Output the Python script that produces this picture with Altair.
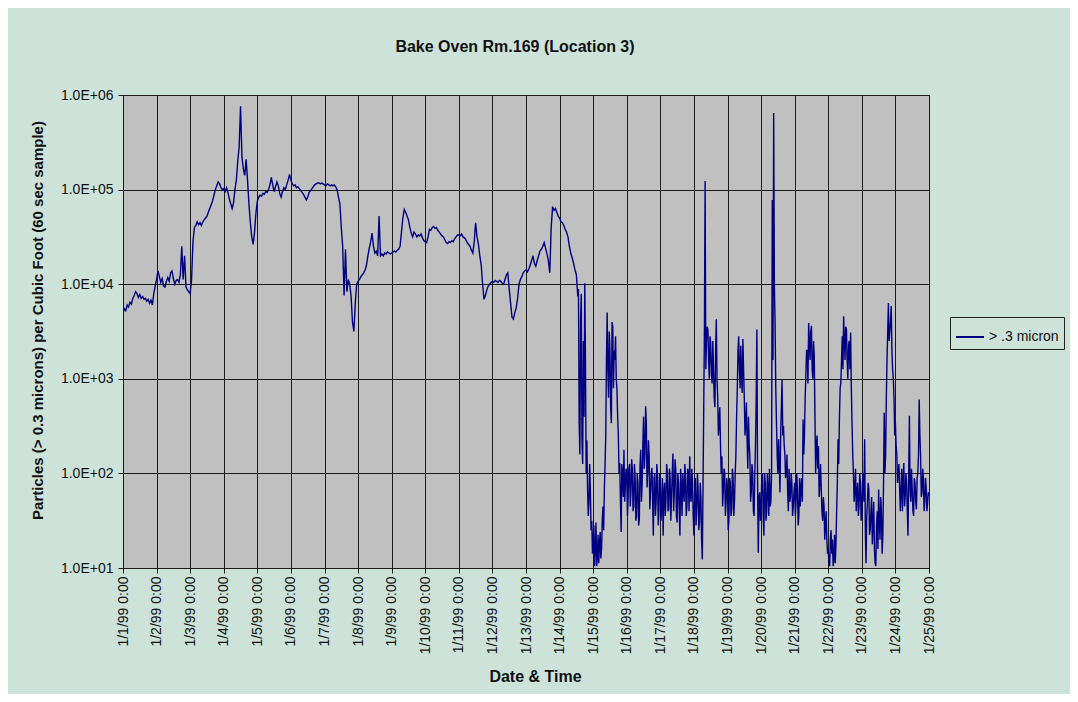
import json
import altair as alt
import pandas as pd

# ---------------- data (log10 of particles per cubic foot) ----------------
title_text = "Bake Oven Rm.169 (Location 3)"
series_name = "> .3 micron"
x_axis_title = "Date & Time"
y_axis_title = "Particles (> 0.3 microns) per Cubic Foot (60 sec sample)"

x_tick_values = list(range(25))
x_tick_labels = [f"1/{d}/99 0:00" for d in range(1, 26)]
y_tick_values = [10, 100, 1000, 10000, 100000, 1000000]
y_tick_labels = ["1.0E+01", "1.0E+02", "1.0E+03", "1.0E+04", "1.0E+05", "1.0E+06"]

# readings on the hour (24 per day)
day_01 = [3.70,3.74,3.72,3.78,3.76,3.81,3.79,3.85,3.88,3.92,3.90,3.86,3.89,3.85,3.87,3.84,3.85,3.82,3.84,3.80,3.83,3.78,3.90,3.98]
day_02 = [4.05,4.14,4.08,4.02,4.06,3.98,3.97,4.03,4.07,4.03,4.12,4.14,4.06,4.00,4.04,4.05,4.02,4.10,4.40,4.05,4.30,3.97,3.94,3.92]
day_03 = [3.90,4.05,4.45,4.60,4.62,4.66,4.63,4.65,4.62,4.66,4.68,4.70,4.72,4.76,4.80,4.84,4.88,4.94,5.00,5.04,5.08,5.06,5.02,5.00]
day_04 = [5.01,4.98,5.02,4.97,4.90,4.85,4.80,4.86,5.00,5.10,5.30,5.45,5.88,5.35,5.22,5.15,5.32,5.10,4.85,4.65,4.50,4.42,4.55,4.75]
day_05 = [4.88,4.92,4.94,4.93,4.96,4.95,4.98,4.97,5.00,5.05,5.13,5.05,4.98,5.03,5.08,5.04,4.96,4.92,4.98,5.02,5.00,5.05,5.10,5.16]
day_06 = [5.10,5.06,5.04,5.05,5.02,5.03,5.01,4.99,4.97,4.95,4.92,4.89,4.92,4.97,4.99,5.01,5.03,5.05,5.06,5.07,5.07,5.06,5.07,5.06]
day_07 = [5.05,5.04,5.06,5.05,5.04,5.05,5.04,5.05,5.03,5.00,4.92,4.85,4.60,4.40,3.88,4.37,3.92,4.05,4.00,3.87,3.60,3.50,3.80,4.00]
day_08 = [4.03,4.05,4.08,4.10,4.12,4.15,4.20,4.30,4.38,4.45,4.54,4.40,4.33,4.35,4.30,4.72,4.30,4.32,4.30,4.33,4.32,4.34,4.33,4.32]
day_09 = [4.33,4.34,4.35,4.34,4.36,4.37,4.40,4.55,4.70,4.79,4.76,4.72,4.68,4.60,4.54,4.50,4.55,4.53,4.50,4.52,4.51,4.53,4.49,4.46]
day_10 = [4.45,4.44,4.50,4.58,4.57,4.60,4.61,4.59,4.60,4.57,4.55,4.53,4.51,4.50,4.47,4.44,4.43,4.45,4.44,4.46,4.45,4.48,4.50,4.52]
day_11 = [4.52,4.51,4.53,4.50,4.49,4.47,4.44,4.42,4.40,4.36,4.33,4.45,4.65,4.50,4.42,4.30,4.20,4.00,3.84,3.88,3.94,3.98,4.00,4.02]
day_12 = [4.03,4.02,4.04,4.03,4.02,4.04,4.03,4.01,4.00,4.05,4.10,4.12,3.95,3.80,3.65,3.63,3.70,3.75,3.85,4.00,4.05,4.08,4.12,4.14]
day_13 = [4.15,4.13,4.16,4.20,4.25,4.30,4.22,4.19,4.25,4.30,4.35,4.37,4.40,4.44,4.38,4.32,4.25,4.12,4.60,4.82,4.78,4.80,4.76,4.72]
day_14 = [4.70,4.66,4.65,4.62,4.58,4.55,4.50,4.40,4.33,4.28,4.22,4.15,4.10,3.87,2.53,3.60,2.36,3.40,4.01,2.00,1.83,1.70,1.83,1.50]
day_15 = [1.30,1.02,1.48,1.10,1.05,1.38,1.20,1.65,1.83,2.40,3.70,2.80,3.30,2.53,3.55,3.30,3.45,2.89,2.40,2.11,1.38,2.00,2.25,1.85]
day_16 = [2.00,1.75,2.10,1.80,2.05,1.65,1.95,1.55,1.90,1.52,2.25,1.90,2.60,2.20,2.53,2.00,2.18,1.80,2.06,1.34,2.00,1.70,1.95,1.60]
day_17 = [1.90,1.65,1.34,1.90,1.70,2.00,1.62,1.95,1.75,2.21,1.80,2.05,1.48,1.90,1.34,1.85,2.00,1.70,1.95,1.65,2.00,2.18,1.70,1.90]
day_18 = [1.34,1.95,1.60,1.83,1.50,1.75,1.09,2.68,5.09,3.40,3.52,3.00,3.38,2.95,3.10,2.70,3.63,2.80,2.53,2.30,2.18,1.80,2.00,1.70]
day_19 = [1.83,1.50,1.90,1.62,1.95,1.70,2.20,2.90,3.45,2.90,3.06,3.42,2.80,2.53,2.35,2.60,2.18,1.80,2.00,1.55,2.30,3.52,1.16,1.80]
day_20 = [1.65,2.00,1.34,1.90,1.60,1.83,2.05,1.70,4.89,5.81,3.59,2.53,2.00,2.10,2.40,2.99,2.50,2.20,2.00,1.80,2.05,1.75,1.90,1.65]
day_21 = [1.90,1.70,1.83,1.55,1.65,1.95,2.57,2.40,3.03,3.30,3.59,3.20,3.56,3.00,3.24,2.00,2.40,2.29,1.90,1.83,1.50,1.65,1.45,1.30]
day_22 = [1.20,1.02,1.40,1.30,1.10,1.05,1.60,2.36,2.60,2.96,3.45,3.66,3.20,3.52,3.00,3.40,3.49,2.53,2.00,1.83,1.60,1.90,1.65,1.90]
day_23 = [1.60,2.00,2.36,1.05,1.70,1.83,1.40,1.75,1.48,1.20,1.02,1.60,1.83,1.30,1.60,1.34,2.64,2.20,3.20,3.80,3.50,3.77,3.10,2.80]
day_24 = [2.53,2.20,2.00,1.85,1.83,1.60,2.11,1.75,1.90,1.34,2.61,1.70,1.83,1.55,1.90,1.62,2.00,2.78,2.18,1.80,1.95,1.70,1.85,1.69]
day_25 = [1.76]

# extra half-hour readings in the noisy part (1/14 from 13:30 to 1/24 23:30)
mid_14_start_hour = 13
mid_14 = [3.95,2.20,3.90,2.10,2.60,3.20,2.35,1.55,2.10,1.40,1.15]
mid_15 = [1.45,1.20,1.02,1.35,1.25,1.10,1.50,1.40,2.10,3.20,3.10,3.50,2.70,3.60,2.90,3.20,3.00,2.60,2.00,1.70,2.10,1.75,1.70,2.05]
mid_16 = [1.55,2.05,1.65,2.15,1.60,2.10,1.50,2.00,1.45,2.10,1.70,2.30,2.05,2.71,1.85,2.35,1.62,2.00,1.70,1.95,1.55,2.10,1.45,2.00]
mid_17 = [1.50,1.95,1.80,1.55,2.10,1.60,2.05,1.50,2.00,1.60,2.15,1.55,2.00,1.62,2.05,1.55,1.80,2.10,1.55,2.05,1.60,1.75,2.05,1.55]
mid_18 = [1.80,1.45,2.00,1.40,1.90,1.30,1.85,3.50,3.10,3.55,3.20,3.45,3.05,3.40,2.80,3.30,3.00,2.40,2.70,2.00,1.65,2.05,1.55,1.95]
mid_19 = [1.40,1.95,1.55,2.05,1.55,2.00,2.60,3.30,3.10,3.35,2.85,3.10,2.40,2.75,2.05,2.30,1.70,2.10,1.60,2.00,2.78,1.90,1.75,1.50]
mid_20 = [1.95,1.55,2.00,1.50,2.00,1.55,1.65,2.00,3.20,4.00,2.90,2.20,2.36,1.80,2.70,2.40,2.30,1.95,2.20,1.60,1.70,2.00,1.55,1.80]
mid_21 = [1.55,2.00,1.45,1.95,1.85,1.70,2.20,2.80,3.30,2.95,3.40,3.50,3.10,3.40,2.60,2.30,2.05,1.75,2.10,1.60,1.75,1.30,1.60,1.15]
mid_22 = [1.05,1.30,1.15,1.02,1.35,1.25,1.90,2.10,2.90,3.20,3.10,3.40,3.55,3.20,3.35,3.10,2.90,2.20,1.70,2.05,1.80,1.55,2.00,1.50]
mid_23 = [1.90,1.70,1.40,1.55,1.90,1.35,1.60,1.25,1.70,1.05,1.45,1.20,1.50,1.75,1.15,1.90,2.00,2.80,3.50,3.40,3.60,3.30,3.00,2.40]
mid_24 = [2.30,1.90,2.10,1.60,2.05,1.90,1.65,2.00,1.60,2.00,1.80,2.05,1.60,1.95,1.70,1.95,2.20,2.40,1.75,2.05,1.60,1.95,1.60,1.80]

hourly_days = [day_01, day_02, day_03, day_04, day_05, day_06, day_07, day_08, day_09, day_10,
               day_11, day_12, day_13, day_14, day_15, day_16, day_17, day_18, day_19, day_20,
               day_21, day_22, day_23, day_24, day_25]
mid_days = {13: mid_14, 14: mid_15, 15: mid_16, 16: mid_17, 17: mid_18, 18: mid_19,
            19: mid_20, 20: mid_21, 21: mid_22, 22: mid_23, 23: mid_24}

rows = []
for d, vals in enumerate(hourly_days):
    for h, v in enumerate(vals):
        rows.append((d + h / 24, v))
for d, vals in mid_days.items():
    start = mid_14_start_hour if d == 13 else 0
    for k, v in enumerate(vals):
        rows.append((d + (start + k + 0.5) / 24, v))
rows.sort()

df = pd.DataFrame({
    "day": [r[0] for r in rows],
    "count": [10 ** r[1] for r in rows],
    "series": series_name,
})

FONT = "Liberation Sans"
TXT = "#111111"

x_label_expr = json.dumps(x_tick_labels) + "[datum.value]"
y_label_expr = json.dumps({str(k): v for k, v in zip(y_tick_values, y_tick_labels)}) + "[datum.value]"

line = alt.Chart(df).mark_line(strokeWidth=1.4, clip=True).encode(
    x=alt.X(
        "day:Q",
        scale=alt.Scale(domain=[0, 24], nice=False, zero=False),
        axis=alt.Axis(
            values=x_tick_values, labelExpr=x_label_expr, labelAngle=270,
            labelFont=FONT, labelFontSize=14, labelColor=TXT, labelPadding=3,
            labelOverlap=False,
            title=x_axis_title, titleFont=FONT, titleFontSize=16, titleFontWeight="bold",
            titleColor=TXT, titleX=412, titleY=108, titleAlign="center", titleBaseline="middle",
            grid=True, gridColor="#1a1a1a", gridWidth=1,
            tickSize=5, tickColor="#1a1a1a", domainColor="#1a1a1a",
        ),
    ),
    y=alt.Y(
        "count:Q",
        scale=alt.Scale(type="log", domain=[10, 1000000], nice=False),
        axis=alt.Axis(
            values=y_tick_values, labelExpr=y_label_expr,
            labelFont=FONT, labelFontSize=14, labelColor=TXT, labelPadding=5,
            title=y_axis_title, titleFont=FONT, titleFontSize=15, titleFontWeight="bold",
            titleColor=TXT, titleX=-86, titleY=225, titleAngle=270,
            titleAlign="center", titleBaseline="middle",
            grid=True, gridColor="#1a1a1a", gridWidth=1,
            tickSize=5, tickColor="#1a1a1a", domainColor="#1a1a1a",
        ),
    ),
    color=alt.Color(
        "series:N",
        scale=alt.Scale(range=["#000080"]),
        legend=alt.Legend(
            orient="none", legendX=827, legendY=222, title=None,
            strokeColor="#222222", padding=5,
            symbolType="stroke", symbolSize=784, symbolStrokeWidth=2,
            labelFont=FONT, labelFontSize=14, labelColor=TXT, labelOffset=4,
        ),
    ),
)

chart = line.properties(
    width=806,
    height=473,
    autosize=alt.AutoSizeParams(type="none"),
    padding={"left": 115, "top": 87, "right": 141, "bottom": 126},
    background="#cde3da",
    title=alt.TitleParams(
        title_text, font=FONT, fontSize=16, fontWeight="bold", color=TXT,
        anchor="middle", offset=33, dx=-11,
    ),
).configure_view(fill="#c0c0c0", stroke="#1a1a1a", strokeWidth=1)

chart.save("out.html", embed_options={"renderer": "svg", "actions": False})
